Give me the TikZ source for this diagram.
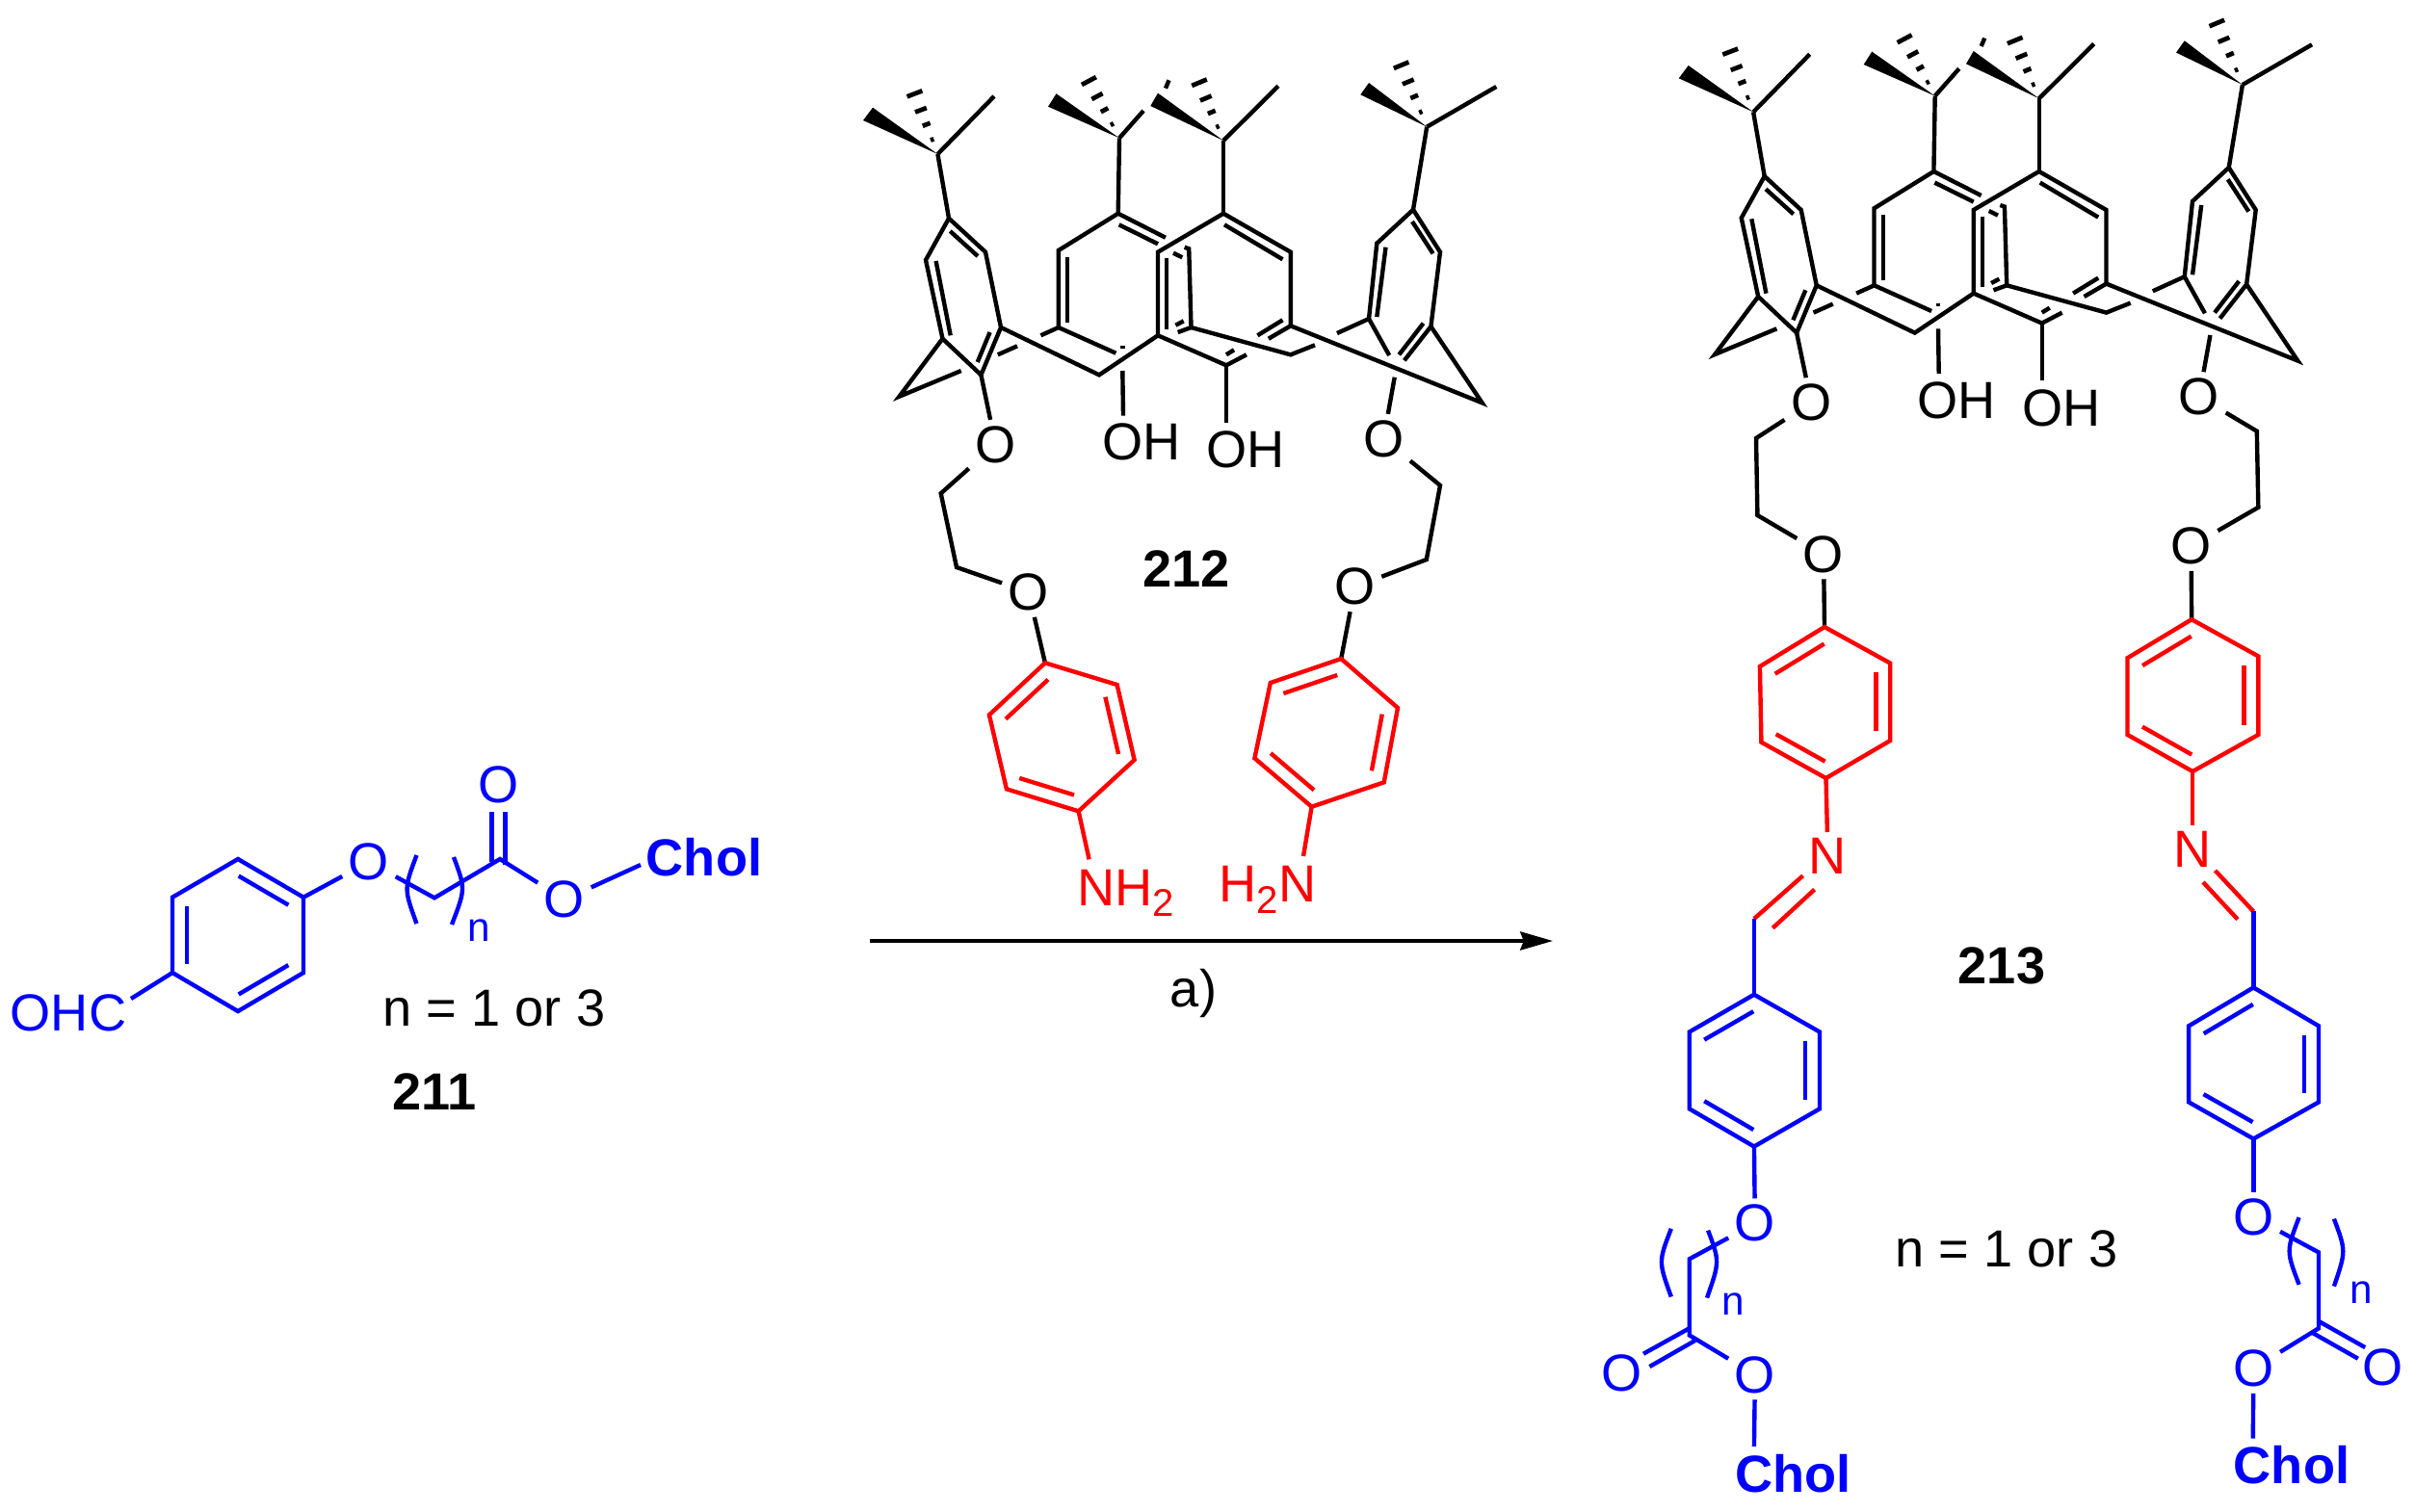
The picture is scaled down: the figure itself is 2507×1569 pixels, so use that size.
\documentclass[tikz,border=0pt]{standalone}
\usepackage{fontspec}
\setmainfont{Liberation Sans}
\usetikzlibrary{calc,arrows.meta}
\definecolor{chemblue}{RGB}{0,0,255}
\definecolor{chemred}{RGB}{255,0,0}
\tikzset{
  bond/.style={line width=1.25pt,line join=miter,line cap=butt},
  atom/.style={font=\fontsize{15.4}{17}\selectfont,inner sep=1.7pt},
  sublabel/.style={font=\fontsize{12}{13}\selectfont,inner sep=0pt},
  boldlabel/.style={font=\fontsize{15.4}{17}\selectfont\bfseries,inner sep=0pt},
  plain/.style={font=\fontsize{15.4}{17}\selectfont,inner sep=0pt},
}
% named points
\newcommand\pts[1]{\foreach \n/\x/\y in {#1}{\coordinate (\n) at (\x,\y);}}
% inner line of a double bond, ring side, for a clockwise a->b
\newcommand\ib[3][]{\draw[bond,#1] ($(#2)!.12!(#3)!4.2pt!-90:(#3)$) -- ($(#3)!.12!(#2)!4.2pt!90:(#2)$);}
% aryl ring from points p1..p6, clockwise from the top
\newcommand\arylA[2]{\draw[bond,#2] (#11)--(#12)--(#13)--(#14)--(#15)--(#16)--cycle;
  \ib[#2]{#16}{#11}\ib[#2]{#12}{#13}\ib[#2]{#14}{#15}}
\newcommand\arylB[2]{\draw[bond,#2] (#11)--(#12)--(#13)--(#14)--(#15)--(#16)--cycle;
  \ib[#2]{#11}{#12}\ib[#2]{#13}{#14}\ib[#2]{#15}{#16}}
% hashed wedge
\newcommand\hashb[2]{\foreach \f/\l in {.24/.5,.49/1.2,.73/1.8,1/2.4}{
  \draw[line width=1.35pt] ($(#1)!\f!(#2)!\l pt!90:(#1)$) -- ($(#1)!\f!(#2)!\l pt!-90:(#1)$);}}
% tert-butyl: centre, ring atom, methyl, wedge corners, hash end
\newcommand\tbu[6]{\draw[bond] (#1)--(#2); \draw[bond] (#1)--(#3);
  \fill (#1)--(#4)--(#5)--cycle; \hashb{#1}{#6}}
% calixarene core
\newcommand\calix[1]{
  \foreach \n/\x/\y in {
    tA/973.4/160, wA/906/111.7, vA/896/125, mA/1032/100, hA/949.5/97.3,
    A1/985/226.7, A2/1023/261.7, A3/1039/340, A4/1018.4/389.3, A5/978.5/351.7, A6/961/270,
    ia1/986.3/240, ia2/1015/266, ia3/971.6/271, ia4/986.7/348.3, ia5/1027.6/345, ia6/1014.7/376,
    a7/933.5/411.7, a8/997.7/385, a10/1035.8/368.3, a11/1056/359.3, Ma/1141/389.3,
    tB/1162/143.3, wB/1096.5/97.3, vB/1088/110.7, mB/1187/115, mBa/1213.5/83.3, mBb/1210/91.7, hB/1130.4/84,
    B1/1160.7/221.7, B2/1098.8/260, B3/1098.8/340, b4/1158.4/366.7, b5/1209.9/246.7,
    ib1/1161.6/233.3, ib2/1202/253.3, ib3/1108/266.7, ib4/1108/335, b6/1080.4/348.3,
    b7/1165.3/359, b7a/1165.3/361.5, b8/1165.3/385, b9/1166/431.7,
    b10/1234.2/258.3, b11/1236.5/340, b12/1229.6/256.7, b13/1218/262.7, b14/1227.3/267.3,
    b15/1220.4/337.7, b16/1228.7/333.3, b17/1222.7/345, Mb/1339.8/368.3, b18/1365/358.3,
    tC/1270/146, wC/1202/96.7, vC/1194.3/110, mC/1327/89.3, hC/1245/85.7,
    C1/1270/221.7, C2/1339.8/261.7, C3/1339.8/338.3, C4/1273/379.3, C5/1202/348.3, C6/1202/261.7,
    c1/1316.8/351.7, c2/1293.9/368.3, c3/1273/439,
    ic1/1271/233.3, ic2/1331.5/269.3, ic3/1211/268.3, ic4/1211/341.7, ic5/1305.4/348.3, ic6/1331.5/332.3,
    ic7/1273/368.3, ic8/1281/363.3,
    tD/1481.2/131.7, wD/1421/86, vD/1412.3/98.3, mD/1553.3/90, hD/1454.6/67.7,
    D1/1467/217.7, D2/1495/261.7, D3/1485.4/339, D5/1421/331, D6/1429.3/252.7,
    d1/1457.8/374.3, d2/1442.2/369, d3/1388/346, d4/1447.7/391.7, e1/1538.6/418.3,
    id1/1466/230, id2/1487.6/263.3, id3/1438.5/256.7, id4/1429.3/329, id5/1477.5/335.7, id6/1452.3/368.3
  }{\coordinate (#1\n) at (\x,\y);}
  \node[atom] (#1Ol) at (1033.5,461.7) {O};
  \node[atom] (#1Or) at (1436.2,455.7) {O};
  \node[atom] (#1OHa) at (1184.6,459.3) {OH};
  \node[atom] (#1OHb) at (1293,467.3) {OH};
  \tbu{#1tA}{#1A1}{#1mA}{#1wA}{#1vA}{#1hA}
  \tbu{#1tB}{#1B1}{#1mB}{#1wB}{#1vB}{#1hB}
  \tbu{#1tC}{#1C1}{#1mC}{#1wC}{#1vC}{#1hC}
  \tbu{#1tD}{#1D1}{#1mD}{#1wD}{#1vD}{#1hD}
  \draw[bond] (#1A1)--(#1A2)--(#1A3)--(#1A4)--(#1A5)--(#1A6)--cycle;
  \draw[bond] (#1A5)--(#1a7)--(#1a8);
  \draw[bond] (#1A3)--(#1Ma)--(#1C5);
  \draw[bond] (#1b5)--(#1B1)--(#1B2)--(#1B3)--(#1b4);
  \draw[bond] (#1b12)--(#1b10)--(#1b11)--(#1Mb)--(#1b18);
  \draw[bond] (#1c1)--(#1C3)--(#1C2)--(#1C1)--(#1C6)--(#1C5)--(#1C4)--(#1c2);
  \draw[bond] (#1d1)--(#1D3)--(#1D2)--(#1D1)--(#1D6)--(#1D5)--(#1d2);
  \draw[bond] (#1C3)--(#1e1)--(#1D3);
  \foreach \a/\b in {ia1/ia2,ia3/ia4,ia5/ia6,a10/a11,mBa/mBb,ib1/ib2,ib3/ib4,B3/b6,b7/b7a,b8/b9,b13/b14,
      b15/b16,b17/b11,ic1/ic2,ic3/ic4,ic5/ic6,ic7/ic8,C4/c3,D5/d3,id1/id2,id3/id4,id5/id6}
    {\draw[bond] (#1\a)--(#1\b);}
  \draw[bond] (#1A4)--(#1Ol);
  \draw[bond] (#1d4)--(#1Or);
}
\begin{document}
\begin{tikzpicture}[x=0.01cm,y=-0.01cm]
\useasboundingbox (0,0) rectangle (2507,1569);

%% ---------- 211 ----------
\begin{scope}[chemblue,text=chemblue]
\pts{p1/247/892, p2/315/931.7, p3/315/1010, p4/247/1050, p5/179/1010, p6/179/931.7,
     pa/136/1037, pb/451/932.3, pc/519/892, pd/510.5/843, pe/524.6/843, pf/510.5/895, pg/524.6/898,
     ph/665/898,
     bl1/432.5/888, blc/419.3/923, bl2/432.5/959, br1/471/890, brc/483.3/923, br2/469/960}
\arylB{p}{chemblue}
\node[atom] (ohc) at (71,1052) {OHC};
\node[atom] (po1) at (383,895) {O};
\node[atom] (po2) at (518,815) {O};
\node[atom] (po3) at (586,934) {O};
\node[boldlabel] (pchol) at (731,890) {Chol};
\node[sublabel] (pn) at (497,966) {n};
\draw[bond] (p5)--(pa);
\draw[bond] (p2)--(po1);
\draw[bond] (po1)--(pb)--(pc)--(po3);
\draw[bond] (po3)--(ph);
\draw[bond] (pf)--(pd);
\draw[bond] (pg)--(pe);
\draw[bond] (bl1) .. controls (blc) .. (bl2);
\draw[bond] (br1) .. controls (brc) .. (br2);
\end{scope}
\node[plain] (nA) at (513,1047) {n = 1 or 3};
\node[boldlabel] (l211) at (451,1134) {211};

%% ---------- 212 ----------
\calix{q}
\pts{ql2/976.7/512.3, ql3/993/589,
     qr2/1495/504, qr3/1480.8/581,
     L1/1084.9/688.3, L2/1159.6/711, L3/1177.6/789, L4/1119.6/842.3, L5/1044.9/819.3, L6/1026.9/742.3,
     R1/1392.2/684, R2/1451/735, R3/1436.7/812.3, R4/1361.6/837.7, R5/1302.4/787.3, R6/1318.8/709,
     lnh/1130.6/892.3, rnh/1353/889}
\node[atom] (qO2) at (1067.8,615) {O};
\node[atom] (qO3) at (1406.5,609.3) {O};
\draw[bond] (qOl)--(ql2)--(ql3)--(qO2);
\draw[bond] (qOr)--(qr2)--(qr3)--(qO3);
\draw[bond] (qO2)--(L1);
\draw[bond] (qO3)--(R1);
\arylA{L}{chemred}
\arylA{R}{chemred}
\draw[bond,chemred] (L4)--(lnh);
\draw[bond,chemred] (R4)--(rnh);
\node[atom,chemred,anchor=base,inner sep=0pt] (nh2) at (1169,940) {NH\raisebox{-3.4pt}{\fontsize{11.4}{12}\selectfont 2}};
\node[atom,chemred,anchor=base,inner sep=0pt] (h2n) at (1316,936.7) {H\raisebox{-3.4pt}{\fontsize{11.4}{12}\selectfont 2}N};
\node[boldlabel] (l212) at (1231.8,591) {212};

%% ---------- arrow ----------
\coordinate (arrS) at (903,977);
\coordinate (arrE) at (1612,977);
\draw[line width=1.15pt,-{Stealth[length=9.6pt,width=5.4pt,inset=1pt]}] (arrS)--(arrE);
\node[plain] (arrL) at (1239,1031) {a)};

%% ---------- 213 ----------
\begin{scope}[shift={(846.7,-43.7)}]
\calix{s}
\end{scope}
\pts{sl2/1823/455, sl3/1824.4/535,
     sr2/2342.8/447.7, sr3/2344.3/526.8,
     T1/1894/651, T2/1962.2/688.6, T3/1962.2/769, T4/1895.5/808, T5/1828.4/770.7, T6/1826.9/692,
     U1/2275.1/643.2, U2/2344.3/681.4, U3/2344.3/762.9, U4/2276.1/801, U5/2208.5/762.9, U6/2208.5/683.2,
     na1/1871.6/909.3, na2/1820.9/954, na3/1883.6/923.6, na4/1840.3/963.6,
     nb1/2299.5/903.9, nb2/2339.3/946.4, nb3/2287/916, nb4/2322.9/954.6,
     V1/1820.9/1032.7, V2/1889/1071.5, V3/1889/1151.3, V4/1820.9/1190.5, V5/1753.7/1151.3, V6/1753.7/1071.5,
     W1/2339.3/1025.4, W2/2407/1065.3, W3/2407/1144.4, W4/2339.3/1182.5, W5/2272.1/1144.4, W6/2272.1/1065.3,
     va/1753.7/1307.3, vb/1753.7/1386.4, vc/1753.7/1379.2, vd/1706/1405.7, ve/1759.7/1391.9, vf/1712.4/1419,
     vg/1820.9/1501.8,
     wa/2407/1300.4, wb/2407/1379.2, wc/2407/1371.9, wd/2455.2/1399.1, we/2400.5/1383.9, wf/2447.8/1410.7,
     wg/2338.8/1493.5,
     ba/1734.8/1275.8, bac/1721.6/1310, bb/1734.8/1346.5, bc/1773.1/1277.6, bcc/1785.2/1310, bd/1772/1347.6,
     be/2386.6/1264.1, bec/2373.3/1299, bf/2386.6/1333.8, bg/2422.9/1265.6, bgc/2435.4/1299, bh/2422.9/1335.6}
\node[atom] (sO2) at (1893,575.4) {O};
\node[atom] (sO3) at (2274.6,567.1) {O};
\draw[bond] (sOl)--(sl2)--(sl3)--(sO2);
\draw[bond] (sOr)--(sr2)--(sr3)--(sO3);
\draw[bond] (sO2)--(T1);
\draw[bond] (sO3)--(U1);
\arylA{T}{chemred}
\arylA{U}{chemred}
\node[atom,chemred] (Na) at (1897.5,889.3) {N};
\node[atom,chemred] (Nb) at (2276.1,882.1) {N};
\draw[bond,chemred] (T4)--(Na);
\draw[bond,chemred] (U4)--(Nb);
\draw[bond,chemred] (na1)--(na2);
\draw[bond,chemred] (na3)--(na4);
\draw[bond,chemred] (nb1)--(nb2);
\draw[bond,chemred] (nb3)--(nb4);
\draw[bond,chemblue] (na2)--(V1);
\draw[bond,chemblue] (nb2)--(W1);
\arylA{V}{chemblue}
\arylA{W}{chemblue}
\begin{scope}[chemblue,text=chemblue]
\node[atom] (vO1) at (1821.9,1270.3) {O};
\node[atom] (vO2) at (1684,1426) {O};
\node[atom] (vO3) at (1821.9,1427.4) {O};
\node[boldlabel] (vchol) at (1861.7,1530.6) {Chol};
\node[sublabel] (vn) at (1799.5,1353.8) {n};
\node[atom] (wO1) at (2339.3,1263.8) {O};
\node[atom] (wO2) at (2473.6,1420) {O};
\node[atom] (wO3) at (2339.3,1420.9) {O};
\node[boldlabel] (wchol) at (2379,1521.5) {Chol};
\node[sublabel] (wn) at (2451.2,1342) {n};
\draw[bond] (V4)--(vO1);
\draw[bond] (vO1)--(va)--(vb)--(vO3);
\draw[bond] (vc)--(vd);
\draw[bond] (ve)--(vf);
\draw[bond] (vO3)--(vg);
\draw[bond] (W4)--(wO1);
\draw[bond] (wO1)--(wa)--(wb)--(wO3);
\draw[bond] (wc)--(wd);
\draw[bond] (we)--(wf);
\draw[bond] (wO3)--(wg);
\draw[bond] (ba) .. controls (bac) .. (bb);
\draw[bond] (bc) .. controls (bcc) .. (bd);
\draw[bond] (be) .. controls (bec) .. (bf);
\draw[bond] (bg) .. controls (bgc) .. (bh);
\end{scope}
\node[plain] (nB) at (2083,1296.6) {n = 1 or 3};
\node[boldlabel] (l213) at (2078,1003) {213};
\end{tikzpicture}
\end{document}
